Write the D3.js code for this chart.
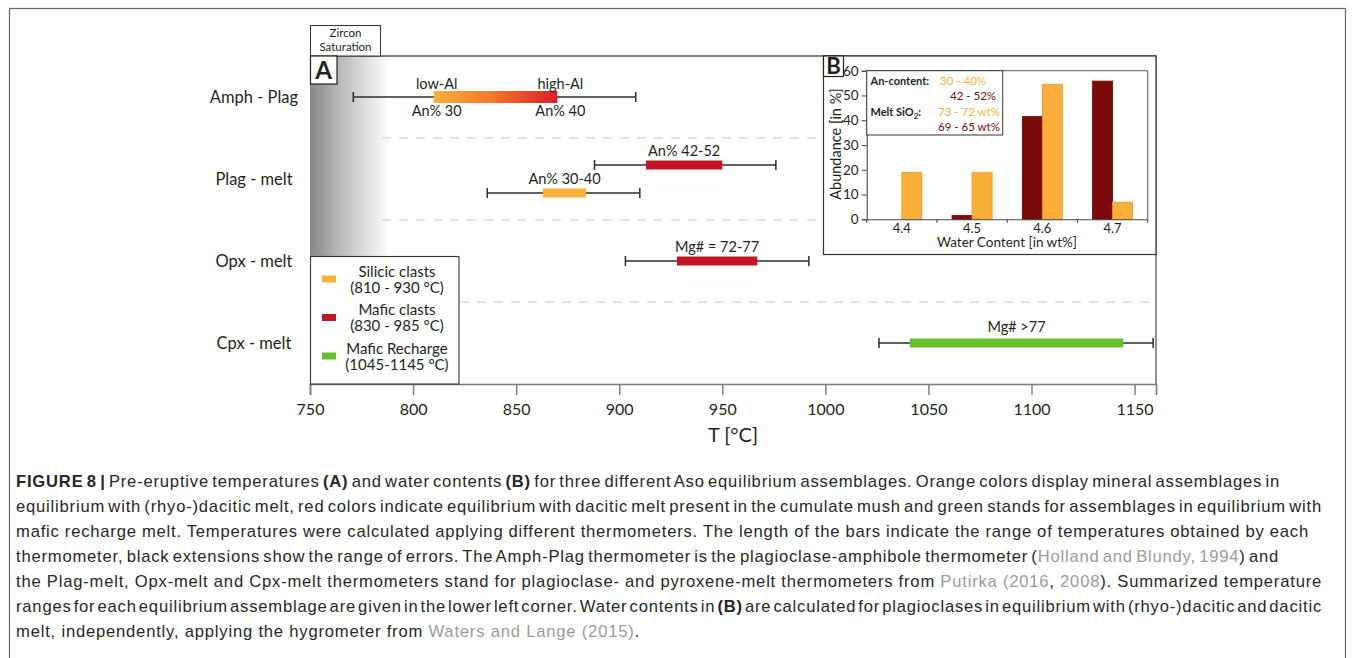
<!DOCTYPE html>
<html>
<head>
<meta charset="utf-8">
<script src="https://cdn.jsdelivr.net/npm/d3@7"></script>
<style>
  body { margin: 0; background: #fff; }
  svg text { font-family: Lato, "Open Sans", sans-serif; fill: #231f20; }
</style>
</head>
<body>
<div id="chart"></div>
<script>
// ---- panel A: thermometers ----
var rows = ["Amph - Plag", "Plag - melt", "Opx - melt", "Cpx - melt"];
var tempTicks = [750, 800, 850, 900, 950, 1000, 1050, 1100, 1150];

// one entry per bar (Plag - melt has two)
var barRow   = ["Amph - Plag", "Plag - melt", "Plag - melt", "Opx - melt", "Cpx - melt"];
var barType  = ["gradient", "mafic", "silicic", "mafic", "recharge"];
var barLow   = [810, 913, 863, 928, 1041];
var barHigh  = [870, 950, 884, 967, 1144.5];
var errLow   = [771, 888, 836, 903, 1026];
var errHigh  = [908, 976, 910, 992, 1159];
var barLabel = ["", "An% 42-52", "An% 30-40", "Mg# = 72-77", "Mg# >77"];

var legendNames  = ["Silicic clasts", "Mafic clasts", "Mafic Recharge"];
var legendRanges = ["(810 - 930 °C)", "(830 - 985 °C)", "(1045-1145 °C)"];
var legendTypes  = ["silicic", "mafic", "recharge"];

// ---- panel B: water contents ----
var water = ["4.4", "4.5", "4.6", "4.7"];
var maficAbund   = [0, 1.6, 41.5, 55.8];   // An 42-52 %
var silicicAbund = [19, 18.8, 54.5, 6.9];  // An 30-40 %
var abundTicks = [0, 10, 20, 30, 40, 50, 60];

var colors = { silicic: "#fbb03b", mafic: "#be1622", recharge: "#66bf2b", dark: "#7c0a0a" };

var svg = d3.select("#chart").append("svg")
    .attr("width", 1355)
    .attr("height", 658);

var defs = svg.append("defs");

// figure frame
svg.append("rect")
    .attr("x", 9.5).attr("y", 8.5)
    .attr("width", 1336).attr("height", 700)
    .style("fill", "none").style("stroke", "#666").style("stroke-width", 1.2);

var x = d3.scaleLinear().domain([750, 1160.4]).range([310, 1156]);
var y = d3.scaleBand().domain(rows).range([56, 384]);

// zircon saturation shading
var zg = defs.append("linearGradient").attr("id", "zircon");
zg.append("stop").attr("offset", "0%").attr("stop-color", "#878787");
zg.append("stop").attr("offset", "45%").attr("stop-color", "#c4c4c4");
zg.append("stop").attr("offset", "100%").attr("stop-color", "#ffffff");

svg.append("rect")
    .attr("x", x(750)).attr("y", 56)
    .attr("width", 80).attr("height", 328)
    .style("fill", "url(#zircon)");

// amph-plag bar gradient
var bg = defs.append("linearGradient").attr("id", "amph");
bg.append("stop").attr("offset", "0%").attr("stop-color", "#fbb03b");
bg.append("stop").attr("offset", "45%").attr("stop-color", "#f47b2a");
bg.append("stop").attr("offset", "100%").attr("stop-color", "#d8202a");

// dashed row separators
var seps = rows.slice(1);
svg.selectAll(".sep").data(seps).enter().append("line")
    .attr("class", "sep")
    .attr("x1", function(d, i){ return i == 2 ? 460 : 382; })
    .attr("x2", 1156)
    .attr("y1", function(d){ return y(d); })
    .attr("y2", function(d){ return y(d); })
    .style("stroke", "#c9c9c9").style("stroke-width", 1.2)
    .style("stroke-dasharray", "9,8");

// plot border (top + right)
svg.append("path")
    .attr("d", "M310,56H1156V384")
    .style("fill", "none").style("stroke", "#555").style("stroke-width", 1.3);

// x axis
var xAxis = svg.append("g")
    .attr("transform", "translate(0,384)")
    .call(d3.axisBottom(x).tickValues(tempTicks).tickFormat(d3.format("d")).tickSize(11).tickPadding(9));
xAxis.select(".domain").style("stroke", "#7a7a7a").style("stroke-width", 1.6);
xAxis.selectAll(".tick line").style("stroke", "#7a7a7a").style("stroke-width", 1.4);
xAxis.selectAll(".tick text")
    .style("font-family", "Lato, sans-serif").style("font-size", "16px").style("fill", "#231f20");

svg.append("text")
    .attr("x", 733).attr("y", 442)
    .attr("text-anchor", "middle")
    .style("font-size", "20px")
    .text("T [°C]");

// row labels
svg.selectAll(".rowlab").data(rows).enter().append("text")
    .attr("class", "rowlab")
    .attr("x", 254)
    .attr("y", function(d){ return y(d) + y.bandwidth() / 2; })
    .attr("dy", "0.35em")
    .attr("text-anchor", "middle")
    .style("font-size", "16.5px")
    .text(function(d){ return d; });

// bar vertical position inside its row
function barY(i) {
  var c = y(barRow[i]) + y.bandwidth() / 2;
  if (barRow[i] == "Plag - melt") c += (barType[i] == "mafic" ? -14 : 14);
  return c;
}

var bars = svg.selectAll(".bar").data(barLow).enter().append("g").attr("class", "bar");

// error extensions
bars.append("line")
    .attr("x1", function(d, i){ return x(errLow[i]); })
    .attr("x2", function(d, i){ return x(errHigh[i]); })
    .attr("y1", function(d, i){ return barY(i); })
    .attr("y2", function(d, i){ return barY(i); })
    .style("stroke", "#2b2b2b").style("stroke-width", 1.5);
[errLow, errHigh].forEach(function(arr){
  bars.append("line")
      .attr("x1", function(d, i){ return x(arr[i]); })
      .attr("x2", function(d, i){ return x(arr[i]); })
      .attr("y1", function(d, i){ return barY(i) - 5; })
      .attr("y2", function(d, i){ return barY(i) + 5; })
      .style("stroke", "#2b2b2b").style("stroke-width", 1.5);
});

// range bars
bars.append("rect")
    .attr("x", function(d, i){ return x(barLow[i]); })
    .attr("width", function(d, i){ return x(barHigh[i]) - x(barLow[i]); })
    .attr("y", function(d, i){ return barY(i) - (barType[i] == "gradient" ? 6 : 4.5); })
    .attr("height", function(d, i){ return barType[i] == "gradient" ? 12 : 9; })
    .style("fill", function(d, i){ return barType[i] == "gradient" ? "url(#amph)" : colors[barType[i]]; });

bars.append("text")
    .attr("x", function(d, i){ return x((barLow[i] + barHigh[i]) / 2); })
    .attr("y", function(d, i){ return barY(i) - (barType[i] == "recharge" ? 16 : 14); })
    .attr("dy", "0.35em")
    .attr("text-anchor", "middle")
    .style("font-size", "14.5px")
    .text(function(d, i){ return barLabel[i]; });

// amph-plag end labels
var amphIdx = 0;
var endLabels = [
  [barLow[amphIdx], "low-Al", -13], [barHigh[amphIdx], "high-Al", -13],
  [barLow[amphIdx], "An% 30", 14], [barHigh[amphIdx], "An% 40", 14]
];
svg.selectAll(".endlab").data(endLabels).enter().append("text")
    .attr("x", function(d){ return x(d[0]) + 3; })
    .attr("y", function(d){ return barY(amphIdx) + d[2]; })
    .attr("dy", "0.35em")
    .attr("text-anchor", "middle")
    .style("font-size", "14.5px")
    .text(function(d){ return d[1]; });

// zircon saturation box + A
svg.append("rect").attr("x", 310.5).attr("y", 25.5).attr("width", 70).attr("height", 30.5)
    .style("fill", "#fff").style("stroke", "#333").style("stroke-width", 1);
svg.append("text").attr("x", 345.5).attr("y", 37).attr("text-anchor", "middle")
    .style("font-size", "11.5px").text("Zircon");
svg.append("text").attr("x", 345.5).attr("y", 51).attr("text-anchor", "middle")
    .style("font-size", "11.5px").text("Saturation");
svg.append("rect").attr("x", 310.5).attr("y", 56).attr("width", 26.5).attr("height", 28)
    .style("fill", "#fff").style("stroke", "#222").style("stroke-width", 1.2);
svg.append("text").attr("x", 323.7).attr("y", 79).attr("text-anchor", "middle")
    .style("font-size", "24px").style("font-weight", "bold").text("A");

// legend
svg.append("rect").attr("x", 310.5).attr("y", 256.5).attr("width", 148.5).attr("height", 127.5)
    .style("fill", "#fff").style("stroke", "#333").style("stroke-width", 1.1);
var leg = svg.selectAll(".leg").data(legendNames).enter().append("g")
    .attr("class", "leg")
    .attr("transform", function(d, i){ return "translate(0," + (279 + i * 38.5) + ")"; });
leg.append("rect").attr("x", 322).attr("y", -3.5).attr("width", 14).attr("height", 7)
    .style("fill", function(d, i){ return colors[legendTypes[i]]; });
leg.append("text").attr("x", 397).attr("y", -7.5).attr("dy", "0.35em").attr("text-anchor", "middle")
    .style("font-size", "15px").text(function(d){ return d; });
leg.append("text").attr("x", 397).attr("y", 8.5).attr("dy", "0.35em").attr("text-anchor", "middle")
    .style("font-size", "15px").text(function(d, i){ return legendRanges[i]; });

// ---- inset B ----
var bx = d3.scaleBand().domain(water).range([866.7, 1147.7]);
var by = d3.scaleLinear().domain([0, 60]).range([219.3, 70.7]);
var bsub = d3.scaleBand().domain(["mafic", "silicic"])
    .range([bx.bandwidth() / 2 - 20, bx.bandwidth() / 2 + 20]);

svg.append("rect").attr("x", 823.5).attr("y", 56).attr("width", 332.5).attr("height", 198.5)
    .style("fill", "#fff").style("stroke", "#333").style("stroke-width", 1.2);
svg.append("rect").attr("x", 823.5).attr("y", 56).attr("width", 20).attr("height", 20.5)
    .style("fill", "#fff").style("stroke", "#222").style("stroke-width", 1.2);
svg.append("text").attr("x", 833.5).attr("y", 74).attr("text-anchor", "middle")
    .style("font-size", "22px").style("font-weight", "bold").text("B");

// plot frame top/right
svg.append("path").attr("d", "M866.7,70.7H1147.7V219.3")
    .style("fill", "none").style("stroke", "#555").style("stroke-width", 1);

var series = [["mafic", maficAbund, colors.dark, "#6a0606"], ["silicic", silicicAbund, colors.silicic, "#e8961f"]];
series.forEach(function(s){
  svg.selectAll(".b-" + s[0]).data(s[1]).enter().append("rect")
      .attr("class", "b-" + s[0])
      .attr("x", function(d, i){ return bx(water[i]) + bsub(s[0]); })
      .attr("width", bsub.bandwidth())
      .attr("y", function(d){ return by(d); })
      .attr("height", function(d){ return by(0) - by(d); })
      .style("fill", s[2]).style("stroke", s[3]).style("stroke-width", 0.8);
});

var yAx = svg.append("g").attr("transform", "translate(866.7,0)")
    .call(d3.axisLeft(by).tickValues(abundTicks).tickSize(5).tickPadding(3));
var xAx = svg.append("g").attr("transform", "translate(0,219.3)")
    .call(d3.axisBottom(bx).tickSize(0).tickPadding(4));
// band boundary ticks
svg.selectAll(".btick").data(water.concat(["end"])).enter().append("line")
    .attr("x1", function(d, i){ return 866.7 + i * bx.bandwidth(); })
    .attr("x2", function(d, i){ return 866.7 + i * bx.bandwidth(); })
    .attr("y1", 219.3).attr("y2", 223)
    .style("stroke", "#444");
[yAx, xAx].forEach(function(a){
  a.select(".domain").style("stroke", "#444").style("stroke-width", 1.1);
  a.selectAll(".tick line").style("stroke", "#444");
  a.selectAll(".tick text").style("font-family", "Lato, sans-serif").style("font-size", "13.5px").style("fill", "#231f20");
});
xAx.selectAll(".tick text").style("font-size", "13px");

svg.append("text")
    .attr("transform", "translate(841,144) rotate(-90)")
    .attr("text-anchor", "middle")
    .style("font-size", "14.5px")
    .text("Abundance [in %]");
svg.append("text").attr("x", 1007).attr("y", 247).attr("text-anchor", "middle")
    .style("font-size", "13.5px").text("Water Content [in wt%]");

// inset legend
svg.append("rect").attr("x", 866.7).attr("y", 70.7).attr("width", 136).attr("height", 64.3)
    .style("fill", "#fff").style("stroke", "#333").style("stroke-width", 1);
var insetLegend = [
  ["An-content:", "30 - 40%", colors.silicic, 940, 85],
  ["", "42 - 52%", colors.dark, 950, 100],
  ["Melt SiO", "73 - 72 wt%", colors.silicic, 938, 115.5],
  ["", "69 - 65 wt%", colors.dark, 938, 130.5]
];
insetLegend.forEach(function(r){
  if (r[0]) {
    var t = svg.append("text").attr("x", 870.5).attr("y", r[4])
        .style("font-size", "11px").style("font-weight", "bold").text(r[0]);
    if (r[0] == "Melt SiO") {
      t.append("tspan").attr("dy", 3).style("font-size", "8px").text("2");
      t.append("tspan").attr("dy", -3).text(":");
    }
  }
  svg.append("text").attr("x", r[3]).attr("y", r[4])
      .style("font-size", "11.5px").style("fill", r[2]).text(r[1]);
});

// ---- caption ----
var captionLines = [
  [["FIGURE 8 | ", "b"], ["Pre-eruptive temperatures ", ""], ["(A)", "b"], [" and water contents ", ""], ["(B)", "b"], [" for three different Aso equilibrium assemblages. Orange colors display mineral assemblages in", ""]],
  [["equilibrium with (rhyo-)dacitic melt, red colors indicate equilibrium with dacitic melt present in the cumulate mush and green stands for assemblages in equilibrium with", ""]],
  [["mafic recharge melt. Temperatures were calculated applying different thermometers. The length of the bars indicate the range of temperatures obtained by each", ""]],
  [["thermometer, black extensions show the range of errors. The Amph-Plag thermometer is the plagioclase-amphibole thermometer (", ""], ["Holland and Blundy, 1994", "l"], [") and", ""]],
  [["the Plag-melt, Opx-melt and Cpx-melt thermometers stand for plagioclase- and pyroxene-melt thermometers from ", ""], ["Putirka (2016", "l"], [", ", ""], ["2008", "l"], ["). Summarized temperature", ""]],
  [["ranges for each equilibrium assemblage are given in the lower left corner. Water contents in ", ""], ["(B)", "b"], [" are calculated for plagioclases in equilibrium with (rhyo-)dacitic and dacitic", ""]],
  [["melt, independently, applying the hygrometer from ", ""], ["Waters and Lange (2015)", "l"], [".", ""]]
];
var captionEnds = [1280, 1322, 1309, 1279, 1322, 1322, 640];

var capTexts = captionLines.map(function(parts, li){
  var t = svg.append("text")
      .attr("x", 16).attr("y", 487 + li * 25)
      .style("font-size", "16.6px")
      .style("font-family", "'Liberation Sans', Arial, sans-serif")
      .attr("xml:space", "preserve");
  parts.forEach(function(p){
    t.append("tspan").text(p[0])
        .style("font-weight", p[1] == "b" ? "bold" : "normal")
        .style("fill", p[1] == "l" ? "#9a9a9a" : "#262626");
  });
  return t;
});

// the last (unjustified) line sets the letter spacing, the others are justified by word spacing
var lastIdx = captionLines.length - 1;
var lastStr = captionLines[lastIdx].map(function(p){ return p[0]; }).join("");
var letter = (captionEnds[lastIdx] - 16 - capTexts[lastIdx].node().getComputedTextLength()) / lastStr.length;
capTexts.forEach(function(t, li){
  var full = captionLines[li].map(function(p){ return p[0]; }).join("");
  t.style("letter-spacing", letter + "px");
  var w = t.node().getComputedTextLength();
  var spaces = (full.match(/ /g) || []).length;
  if (li != lastIdx && spaces > 0) t.style("word-spacing", ((captionEnds[li] - 16 - w) / spaces) + "px");
});
</script>
</body>
</html>
